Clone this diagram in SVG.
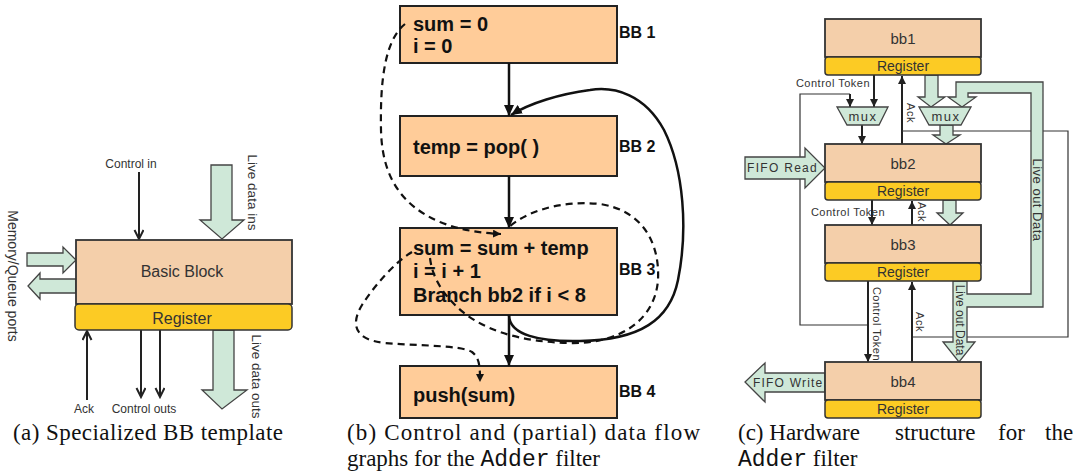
<svg xmlns="http://www.w3.org/2000/svg" width="1079" height="475" viewBox="0 0 1079 475">
<style>
.bb{fill:#F4CFAA;stroke:#333;stroke-width:1.8}
.reg{fill:#FCCB24;stroke:#333;stroke-width:1.5}
.grn{fill:#CFE8D8;stroke:#444;stroke-width:1.3;stroke-linejoin:miter}
.lbl{font-family:"Liberation Sans",Arial,sans-serif;fill:#333}
.cf{fill:#FFCC99;stroke:#222;stroke-width:2}
.code{font-family:"Liberation Sans",Arial,sans-serif;font-weight:bold;font-size:20px;fill:#111}
.bbl{font-family:"Liberation Sans",Arial,sans-serif;font-weight:bold;font-size:16px;fill:#111}
.cap{font-family:"Liberation Serif","Times New Roman",serif;font-size:23px;fill:#111}
.mono{font-family:"Liberation Mono","Courier New",monospace}
.ln{fill:none;stroke:#222;stroke-width:2}
.thin{fill:none;stroke:#333;stroke-width:1.2}
.sol{fill:none;stroke:#111;stroke-width:2.5}
.dash{fill:none;stroke:#111;stroke-width:2.2;stroke-dasharray:7,5}
.sp{letter-spacing:0.5px}
</style>
<defs>
<marker id="chev" markerUnits="userSpaceOnUse" markerWidth="12" markerHeight="12" refX="10" refY="5" orient="auto">
<path d="M1,0.5 L10,5 L1,9.5" fill="none" stroke="#222" stroke-width="2"/>
</marker>
<marker id="tri" markerUnits="userSpaceOnUse" markerWidth="12" markerHeight="12" refX="11" refY="5" orient="auto">
<path d="M0,0 L11,5 L0,10 z" fill="#111"/>
</marker>
<marker id="dtri" markerUnits="userSpaceOnUse" markerWidth="10" markerHeight="10" refX="8" refY="4" orient="auto">
<path d="M0,0 L8,4 L0,8 z" fill="#111"/>
</marker>
<marker id="st" markerUnits="userSpaceOnUse" markerWidth="9" markerHeight="9" refX="8" refY="4" orient="auto">
<path d="M0,0 L8,4 L0,8 z" fill="#222"/>
</marker>
</defs>

<!-- ============ Panel (a) ============ -->
<g id="a-connectors">
<line class="ln" x1="139" y1="172" x2="139" y2="239" marker-end="url(#chev)"/>
<line class="ln" x1="87" y1="400" x2="87" y2="331" marker-end="url(#chev)"/>
<line class="ln" x1="141" y1="330" x2="141" y2="397" marker-end="url(#chev)"/>
<line class="ln" x1="160" y1="330" x2="160" y2="397" marker-end="url(#chev)"/>
<polygon class="grn" points="211,165 232,165 232,220 244,220 222,239 200,220 211,220"/>
<polygon class="grn" points="27,253 63,253 63,247 76,260 63,273 63,266 27,266"/>
<polygon class="grn" points="76,279 40,279 40,273 28,286 40,299 40,293 76,293"/>
<polygon class="grn" points="213,330 234,330 234,390 247,390 222,409 202,390 213,390"/>
</g>
<g id="a-bb">
<rect class="bb" x="76" y="240" width="216" height="64"/>
<text class="lbl" x="182" y="277" font-size="16" text-anchor="middle">Basic Block</text>
</g>
<g id="a-reg">
<rect class="reg" x="75" y="304" width="217" height="26" rx="4"/>
<text class="lbl" x="182" y="324" font-size="16" text-anchor="middle">Register</text>
</g>
<g id="a-labels">
<text class="lbl" x="131" y="168" font-size="12" text-anchor="middle">Control in</text>
<text class="lbl" x="84" y="413" font-size="12" text-anchor="middle">Ack</text>
<text class="lbl" x="144" y="413" font-size="12" text-anchor="middle">Control outs</text>
<text class="lbl" x="252" y="192.5" font-size="13.5" text-anchor="middle" dominant-baseline="central" transform="rotate(90 252 192.5)">Live data ins</text>
<text class="lbl" x="256" y="376.5" font-size="13.5" text-anchor="middle" dominant-baseline="central" transform="rotate(90 256 376.5)">Live data outs</text>
<text class="lbl" x="13" y="276" font-size="14" text-anchor="middle" dominant-baseline="central" transform="rotate(90 13 276)">Memory/Queue ports</text>
</g>

<!-- ============ Panel (b) ============ -->
<g id="b-bb1">
<rect class="cf" x="400" y="6" width="217" height="57"/>
<text class="code" x="413" y="31">sum = 0</text>
<text class="code" x="413" y="53">i = 0</text>
<text class="bbl" x="619" y="38">BB 1</text>
</g>
<g id="b-bb2">
<rect class="cf" x="400" y="116" width="217" height="60"/>
<text class="code" x="413" y="154">temp = pop( )</text>
<text class="bbl" x="619" y="152">BB 2</text>
</g>
<g id="b-bb3">
<rect class="cf" x="400" y="228" width="217" height="87"/>
<text class="code" x="413" y="255">sum = sum + temp</text>
<text class="code" x="413" y="278">i = i + 1</text>
<text class="code" x="413" y="302">Branch bb2 if i &lt; 8</text>
<text class="bbl" x="619" y="275">BB 3</text>
</g>
<g id="b-bb4">
<rect class="cf" x="400" y="366" width="217" height="52"/>
<text class="code" x="413" y="402">push(sum)</text>
<text class="bbl" x="619" y="397">BB 4</text>
</g>
<g id="b-connectors">
<line class="sol" x1="509" y1="63" x2="509" y2="116" marker-end="url(#tri)"/>
<line class="sol" x1="509" y1="176" x2="509" y2="228" marker-end="url(#tri)"/>
<line class="sol" x1="509" y1="315" x2="509" y2="366" marker-end="url(#tri)"/>
<path class="sol" d="M509,315 C509,335 540,342 580,341 C640,340 670,320 678,280 C688,230 684,170 664,130 C645,95 615,86 590,90 C560,94 530,103 511,115" marker-end="url(#tri)"/>
<path class="dash" d="M405,24 C385,40 380,80 381,130 C382,175 400,205 440,222 C460,230 480,233 501,234" marker-end="url(#dtri)"/>
<path class="dash" d="M412,252 C395,262 375,285 362,305 C350,325 355,340 385,343 C420,346 460,345 472,352 C480,358 480,368 480,382" marker-end="url(#dtri)"/>
<path class="dash" d="M430,258 C432,275 440,290 455,305 C480,330 520,342 570,343 C620,344 655,320 658,280 C660,240 640,210 600,204 C560,200 525,212 508,228"/>
</g>

<!-- ============ Panel (c) ============ -->
<g id="c-connectors">
<polyline class="thin" points="868,325 800,325 800,94 850,94"/>
<line class="ln" x1="850" y1="94" x2="850" y2="107" marker-end="url(#st)"/>
<line class="ln" x1="874" y1="75" x2="874" y2="107" marker-end="url(#st)"/>
<line class="ln" x1="862" y1="125" x2="862" y2="144" marker-end="url(#st)"/>
<line class="ln" x1="902" y1="144" x2="902" y2="76" marker-end="url(#st)"/>
<polyline class="thin" points="902,131 1068,131 1068,337 912,337"/>
<line class="ln" x1="872" y1="200" x2="872" y2="225" marker-end="url(#st)"/>
<line class="ln" x1="912" y1="225" x2="912" y2="201" marker-end="url(#st)"/>
<line class="ln" x1="868" y1="281" x2="868" y2="362" marker-end="url(#st)"/>
<line class="ln" x1="912" y1="362" x2="912" y2="282" marker-end="url(#st)"/>
<polygon class="grn" points="925,75 938,75 938,97 945,97 931,107 918,97 925,97"/>
<polygon class="grn" points="940,125 953,125 953,135 960,135 946,144 933,135 940,135"/>
<polygon class="grn" points="943,200 956,200 956,213 963,213 950,225 937,213 943,213"/>
<polygon class="grn" points="953,281 953,342 943,342 959,362 975,342 967,342 967,307 1043,307 1043,82 956,82 956,97 948,97 962,107 976,97 968,97 968,93 1031,93 1031,294 967,294 967,281"/>
<polygon class="grn" points="745,157 805,157 805,148 825,168 805,188 805,179 745,179"/>
<polygon class="grn" points="825,373 765,373 765,363 745,382 765,402 765,392 825,392"/>
</g>
<g id="c-mux1">
<polygon class="grn" points="837,107 888,107 879,125 847,125"/>
<text class="lbl" x="863" y="121" font-size="13" text-anchor="middle" letter-spacing="1.5">mux</text>
</g>
<g id="c-mux2">
<polygon class="grn" points="919,107 971,107 961,125 929,125"/>
<text class="lbl" x="946" y="121" font-size="13" text-anchor="middle" letter-spacing="1.5">mux</text>
</g>
<g id="c-bb1">
<rect class="bb" x="825" y="19" width="156" height="38"/>
<text class="lbl" x="903" y="44" font-size="15" text-anchor="middle">bb1</text>
<rect class="reg" x="825" y="57" width="156" height="18" rx="3"/>
<text class="lbl" x="903" y="71" font-size="14" text-anchor="middle">Register</text>
</g>
<g id="c-bb2">
<rect class="bb" x="825" y="144" width="156" height="38"/>
<text class="lbl" x="903" y="169" font-size="15" text-anchor="middle">bb2</text>
<rect class="reg" x="825" y="182" width="156" height="18" rx="3"/>
<text class="lbl" x="903" y="196" font-size="14" text-anchor="middle">Register</text>
</g>
<g id="c-bb3">
<rect class="bb" x="825" y="225" width="156" height="38"/>
<text class="lbl" x="903" y="250" font-size="15" text-anchor="middle">bb3</text>
<rect class="reg" x="825" y="263" width="156" height="18" rx="3"/>
<text class="lbl" x="903" y="277" font-size="14" text-anchor="middle">Register</text>
</g>
<g id="c-bb4">
<rect class="bb" x="825" y="362" width="156" height="38"/>
<text class="lbl" x="903" y="387" font-size="15" text-anchor="middle">bb4</text>
<rect class="reg" x="825" y="400" width="156" height="18" rx="3"/>
<text class="lbl" x="903" y="414" font-size="14" text-anchor="middle">Register</text>
</g>
<g id="c-labels">
<text class="lbl" x="747" y="172" font-size="12" letter-spacing="1.3">FIFO Read</text>
<text class="lbl" x="753" y="387" font-size="12" letter-spacing="1.2">FIFO Write</text>
<text class="lbl sp" x="833" y="87" font-size="11" text-anchor="middle">Control Token</text>
<text class="lbl sp" x="848" y="216" font-size="11" text-anchor="middle">Control Token</text>
<text class="lbl sp" x="877" y="324" font-size="11" text-anchor="middle" dominant-baseline="central" transform="rotate(90 877 324)">Control Token</text>
<text class="lbl sp" x="911" y="113" font-size="11" text-anchor="middle" dominant-baseline="central" transform="rotate(90 911 113)">Ack</text>
<text class="lbl sp" x="922" y="212" font-size="11" text-anchor="middle" dominant-baseline="central" transform="rotate(90 922 212)">Ack</text>
<text class="lbl sp" x="920" y="322" font-size="11" text-anchor="middle" dominant-baseline="central" transform="rotate(90 920 322)">Ack</text>
<text class="lbl sp" x="1037" y="200" font-size="13" text-anchor="middle" dominant-baseline="central" transform="rotate(90 1037 200)">Live out Data</text>
<text class="lbl" x="960" y="320" font-size="12" text-anchor="middle" dominant-baseline="central" transform="rotate(90 960 320)">Live out Data</text>
</g>

<!-- ============ Captions ============ -->
<g id="captions">
<text class="cap" x="13" y="440" textLength="270">(a) Specialized BB template</text>
<text class="cap" x="347" y="440" textLength="353" lengthAdjust="spacing">(b) Control and (partial) data flow</text>
<text class="cap" x="347" y="466">graphs for the <tspan class="mono">Adder</tspan> filter</text>
<text class="cap" x="738" y="440">(c) Hardware</text>
<text class="cap" x="895" y="440">structure</text>
<text class="cap" x="998" y="440">for</text>
<text class="cap" x="1045" y="440">the</text>
<text class="cap" x="738" y="466"><tspan class="mono">Adder</tspan> filter</text>
</g>
</svg>
